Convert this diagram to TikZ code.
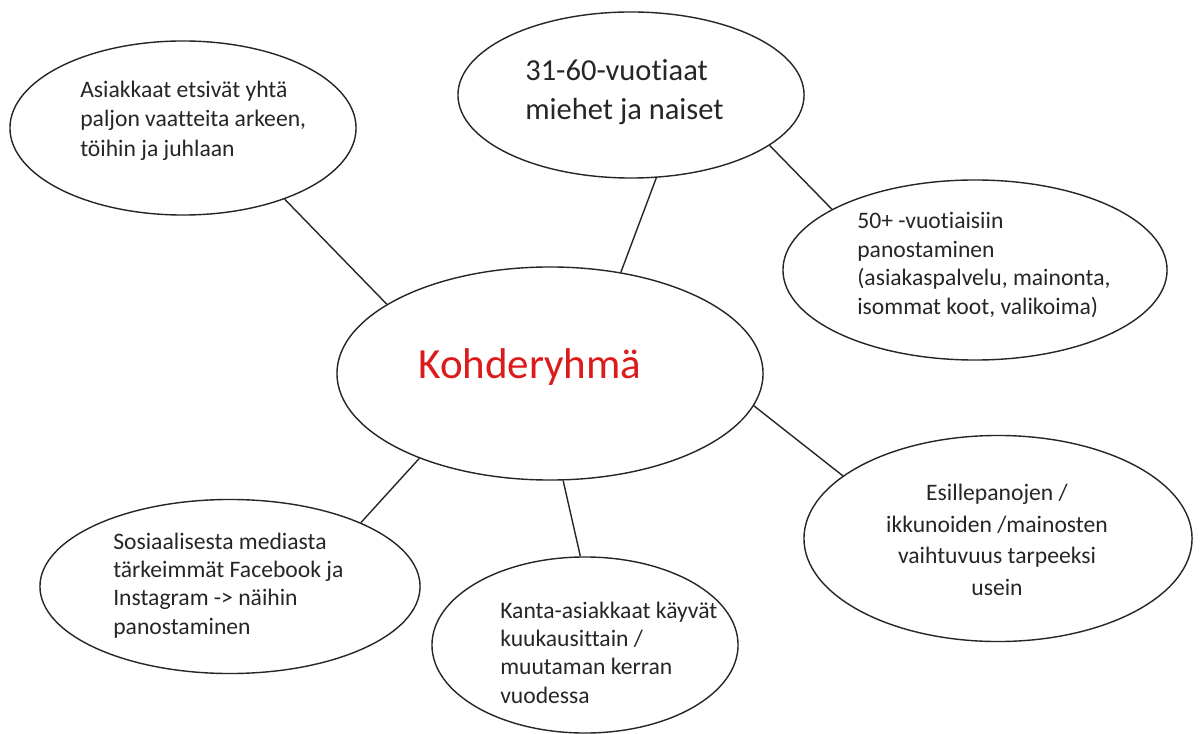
\documentclass[tikz,border=0pt]{standalone}
\usepackage{fontspec}
\setmainfont[Ligatures=NoCommon]{Carlito}
\usetikzlibrary{shapes.geometric}
\definecolor{kred}{RGB}{220,28,28}
\tikzset{
  bubble/.style={draw=black!85, line width=1pt, ellipse, fill=white, inner sep=0pt},
  link/.style={draw=black!85, line width=1pt},
  smalltxt/.style={align=left, inner sep=0pt, text=black!85, font=\fontsize{16.8}{21}\selectfont},
}
\begin{document}
\begin{tikzpicture}[x=0.025cm, y=-0.025cm]
        \useasboundingbox[fill=white] (0,0) rectangle (1200,734);

        % ellipses
        \node[bubble, minimum width=8.65cm, minimum height=4.35cm] (arki) at (183,128) {};
        \node[bubble, minimum width=8.65cm, minimum height=4.15cm] (ika) at (631,95) {};
        \node[bubble, minimum width=9.6cm, minimum height=4.5cm] (yli50) at (975,270) {};
        \node[bubble, minimum width=10.65cm, minimum height=5.325cm] (kohde) at (550,373.5) {};
        \node[bubble, minimum width=9.7cm, minimum height=5.15cm] (ikkunat) at (998,538.5) {};
        \node[bubble, minimum width=9.5cm, minimum height=4.35cm] (some) at (230,586.5) {};
        \node[bubble, minimum width=7.65cm, minimum height=4.4cm] (kanta) at (585,645) {};

        % connectors
        \draw[link] (arki.-35.2) -- (kohde.157.7);
        \draw[link] (ika.-73.1) -- (kohde.55.4);
        \draw[link] (ika.-20.1) -- (yli50.157.6);
        \draw[link] (kohde.-9.55) -- (ikkunat.158);
        \draw[link] (kohde.-147.6) -- (some.26.2);
        \draw[link] (kohde.-83) -- (kanta.93.4);

        % texts
        \node[text=kred, inner sep=0pt, font=\fontsize{30.6}{36}\selectfont] (kohde-txt) at (530,367) {Kohderyhmä};
        \node[smalltxt, anchor=west, font=\fontsize{21.7}{28}\selectfont] (ika-txt) at (525,92) {31-60-vuotiaat\\miehet ja naiset};
        \node[smalltxt, anchor=west] (arki-txt) at (80,120.5) {Asiakkaat etsivät yhtä\\paljon vaatteita arkeen,\\töihin ja juhlaan};
        \node[smalltxt, anchor=west, font=\fontsize{16.8}{20.3}\selectfont] (yli50-txt) at (857,265) {50+ -vuotiaisiin\\panostaminen\\(asiakaspalvelu, mainonta,\\isommat koot, valikoima)};
        \node[smalltxt, align=center, font=\fontsize{16.8}{22.5}\selectfont] (ikkunat-txt) at (997,540) {Esillepanojen /\\ikkunoiden /mainosten\\vaihtuvuus tarpeeksi\\usein};
        \node[smalltxt, anchor=west, font=\fontsize{16.8}{20.1}\selectfont] (some-txt) at (113,585.5) {Sosiaalisesta mediasta\\tärkeimmät Facebook ja\\Instagram -> näihin\\panostaminen};
        \node[smalltxt, anchor=west, font=\fontsize{16.8}{20.1}\selectfont] (kanta-txt) at (500,652.5) {Kanta-asiakkaat käyvät\\kuukausittain /\\muutaman kerran\\vuodessa};
\end{tikzpicture}
\end{document}
